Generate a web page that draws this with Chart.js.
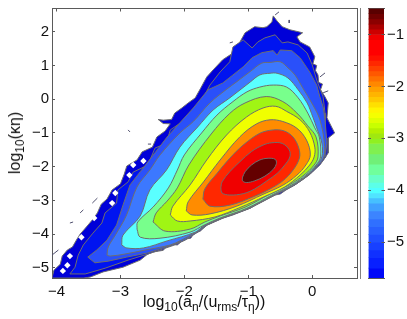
<!DOCTYPE html>
<html><head><meta charset="utf-8">
<script src="https://cdn.jsdelivr.net/npm/chart.js@4"></script>
<style>
html,body{margin:0;padding:0;background:#fff;width:407px;height:319px;overflow:hidden}
canvas{position:absolute;display:block}
.lab{position:absolute;font:16px "Liberation Sans",Arial,sans-serif;color:#111;white-space:nowrap;line-height:18px}
.lab sub{font-size:12px;line-height:0;vertical-align:-4px}
</style></head><body>
<canvas id="main" width="407" height="319" style="left:0;top:0"></canvas>
<canvas id="bar" width="47" height="319" style="left:360px;top:0"></canvas>
<div class="lab" id="xl" style="left:143px;top:293px">log<sub>10</sub>(a<sub>n</sub>/(u<sub>rms</sub>/τ<sub>η</sub>))</div>
<div class="lab" id="yl" style="left:15px;top:143px;transform:translate(-50%,-50%) rotate(-90deg)">log<sub>10</sub>(κη)</div>
<script>
const xTicks=[-4,-3,-2,-1,0];
const yTicks=[-5,-4,-3,-2,-1,0,1,2];
const barTicks=[-5,-4,-3,-2,-1];

const levelOuter=[[-4.07,-5.30],[-4.04,-5.07],[-3.94,-4.89],[-3.91,-4.65],[-3.83,-4.47],[-3.75,-4.38],[-3.69,-4.18],[-3.63,-4.00],[-3.52,-3.76],[-3.44,-3.58],[-3.36,-3.37],[-3.30,-3.11],[-3.21,-2.96],[-3.13,-2.69],[-3.00,-2.51],[-2.94,-2.22],[-2.90,-1.98],[-2.74,-1.80],[-2.66,-1.56],[-2.50,-1.42],[-2.43,-1.12],[-2.30,-0.94],[-2.22,-0.73],[-2.33,-0.72],[-2.41,-0.60],[-2.33,-0.62],[-2.20,-0.60],[-2.15,-0.41],[-2.04,-0.26],[-1.94,-0.11],[-1.83,0.04],[-1.75,0.31],[-1.65,0.66],[-1.55,0.87],[-1.40,1.17],[-1.24,1.37],[-1.13,1.70],[-1.05,1.97],[-0.90,2.15],[-0.77,2.12],[-0.71,2.15],[-0.63,2.29],[-0.61,2.47],[-0.55,2.32],[-0.47,2.15],[-0.35,2.06],[-0.15,1.97],[-0.24,1.85],[-0.19,1.70],[-0.04,1.55],[0.04,1.26],[0.01,1.05],[0.07,1.00],[0.05,0.85],[0.09,0.72],[0.10,0.50],[0.16,0.45],[0.13,0.28],[0.20,0.07],[0.25,-0.11],[0.23,-0.55],[0.35,-1.00],[0.25,-1.15],[0.25,-1.59],[0.20,-1.74],[0.12,-1.92],[0,-2.16],[-0.13,-2.36],[-0.27,-2.54],[-0.41,-2.69],[-0.50,-2.81],[-0.58,-2.84],[-0.82,-3.05],[-0.97,-3.23],[-1.24,-3.43],[-1.44,-3.55],[-1.65,-3.73],[-1.75,-3.91],[-1.85,-3.98],[-1.90,-4.12],[-2.00,-4.15],[-2.11,-4.32],[-2.25,-4.30],[-2.33,-4.48],[-2.49,-4.53],[-2.58,-4.60],[-2.69,-4.77],[-2.96,-4.98],[-3.27,-5.12],[-3.47,-5.27],[-3.57,-5.30]];
const levelDeep=[[-3.79,-5.18],[-3.71,-4.98],[-3.66,-4.62],[-3.58,-4.32],[-3.43,-3.97],[-3.29,-3.67],[-3.24,-3.37],[-3.06,-3.08],[-3.04,-2.69],[-2.88,-2.45],[-2.80,-2.16],[-2.57,-1.95],[-2.46,-1.45],[-2.28,-1.30],[-2.22,-0.91],[-1.99,-0.61],[-1.91,-0.38],[-1.75,-0.11],[-1.68,0.13],[-1.60,0.42],[-1.44,0.81],[-1.29,1.11],[-1.24,1.55],[-1.08,1.76],[-0.94,1.52],[-0.85,1.70],[-0.74,1.82],[-0.58,1.91],[-0.47,1.67],[-0.38,1.70],[-0.22,1.61],[-0.08,1.37],[0,1.02],[0.07,0.57],[0.17,0.07],[0.20,-0.41],[0.20,-0.91],[0.22,-1.36],[0.21,-1.71],[0.12,-1.95],[-0.05,-2.25],[-0.27,-2.54],[-0.58,-2.84],[-0.97,-3.23],[-1.39,-3.52],[-1.64,-3.73],[-1.79,-3.94],[-1.99,-4.18],[-2.18,-4.34],[-2.57,-4.59],[-2.88,-4.77],[-3.24,-5.01],[-3.55,-5.18]];
const levelRoyal=[[-3.51,-4.68],[-3.37,-4.47],[-3.21,-4.18],[-3.06,-3.73],[-2.96,-3.14],[-2.85,-2.54],[-2.69,-2.15],[-2.46,-1.59],[-2.27,-1.12],[-2.07,-0.70],[-1.86,-0.26],[-1.63,0.28],[-1.40,0.48],[-1.24,0.72],[-1.08,0.96],[-0.94,1.23],[-0.79,1.38],[-0.61,1.44],[-0.55,1.31],[-0.50,1.46],[-0.32,1.44],[-0.19,1.23],[-0.04,0.81],[0.07,0.42],[0.12,0.07],[0.17,-0.23],[0.20,-0.61],[0.23,-1.30],[0.19,-1.71],[0.10,-1.95],[-0.06,-2.25],[-0.28,-2.54],[-0.59,-2.84],[-0.98,-3.23],[-1.40,-3.52],[-1.65,-3.73],[-1.80,-3.94],[-2.00,-4.18],[-2.19,-4.32],[-2.58,-4.56],[-2.90,-4.68],[-3.19,-4.80],[-3.40,-4.85]];
const levelSky=[[-3.21,-4.62],[-3.19,-4.38],[-3.08,-4.03],[-2.91,-3.46],[-2.74,-2.60],[-2.54,-2.10],[-2.38,-1.65],[-2.07,-1.00],[-1.86,-0.66],[-1.60,-0.11],[-1.35,0.28],[-1.18,0.52],[-0.97,0.82],[-0.79,1.07],[-0.66,1.09],[-0.50,1.11],[-0.38,0.93],[-0.27,0.72],[-0.15,0.34],[0.01,-0.17],[0.12,-0.61],[0.19,-1.30],[0.18,-1.71],[0.09,-1.95],[-0.07,-2.25],[-0.29,-2.54],[-0.60,-2.84],[-0.99,-3.23],[-1.42,-3.52],[-1.67,-3.73],[-1.82,-3.94],[-2.05,-4.18],[-2.22,-4.32],[-2.61,-4.47],[-2.93,-4.59],[-3.16,-4.65]];
const levelCyan=[[-2.98,-4.32],[-2.96,-4.03],[-2.69,-3.46],[-2.54,-2.69],[-2.28,-2.10],[-2.07,-1.42],[-1.79,-0.82],[-1.55,-0.32],[-1.29,0.04],[-0.97,0.51],[-0.82,0.72],[-0.66,0.77],[-0.55,0.77],[-0.38,0.63],[-0.22,0.28],[-0.08,-0.11],[0.01,-0.53],[0.07,-0.85],[0.15,-1.30],[0.15,-1.71],[0.07,-1.95],[-0.08,-2.25],[-0.30,-2.54],[-0.61,-2.84],[-1.00,-3.23],[-1.43,-3.52],[-1.68,-3.73],[-1.83,-3.94],[-2.27,-4.20],[-2.64,-4.41],[-2.90,-4.41]];
const levelMint=[[-2.74,-3.85],[-2.73,-3.64],[-2.49,-3.20],[-2.25,-2.63],[-2.11,-2.10],[-2.00,-1.65],[-1.73,-1.00],[-1.49,-0.47],[-1.24,-0.07],[-1.02,0.22],[-0.82,0.36],[-0.61,0.42],[-0.40,0.36],[-0.22,0.04],[-0.07,-0.41],[0.04,-0.85],[0.11,-1.12],[0.13,-1.71],[0.06,-1.95],[-0.10,-2.25],[-0.32,-2.54],[-0.63,-2.84],[-1.02,-3.23],[-1.44,-3.52],[-1.69,-3.73],[-1.91,-3.94],[-2.38,-4.12],[-2.69,-4.09]];
const levelGreen=[[-2.49,-3.64],[-2.44,-3.37],[-2.27,-3.02],[-2.11,-2.63],[-1.93,-1.95],[-1.58,-1.03],[-1.29,-0.42],[-1.05,-0.11],[-0.72,0.08],[-0.46,-0.07],[-0.24,-0.41],[-0.07,-0.79],[0.06,-1.12],[0.09,-1.71],[0.03,-1.95],[-0.13,-2.25],[-0.35,-2.53],[-0.66,-2.81],[-1.05,-3.20],[-1.44,-3.46],[-1.68,-3.64],[-1.91,-3.85],[-2.30,-3.91]];
const levelYellow=[[-2.22,-3.43],[-2.18,-3.17],[-1.91,-2.54],[-1.65,-1.80],[-1.34,-1.06],[-1.03,-0.53],[-0.77,-0.26],[-0.57,-0.21],[-0.40,-0.36],[-0.19,-0.61],[-0.04,-0.97],[0.04,-1.42],[0.03,-1.71],[-0.04,-1.95],[-0.19,-2.25],[-0.43,-2.60],[-0.74,-2.88],[-1.13,-3.21],[-1.52,-3.49],[-1.91,-3.61],[-2.11,-3.61]];
const levelOrange=[[-1.97,-3.31],[-1.94,-3.04],[-1.70,-2.45],[-1.44,-1.80],[-1.13,-1.11],[-0.87,-0.73],[-0.66,-0.61],[-0.46,-0.66],[-0.24,-0.86],[-0.09,-1.21],[-0.03,-1.65],[-0.10,-1.95],[-0.24,-2.25],[-0.46,-2.55],[-0.77,-2.82],[-1.18,-3.17],[-1.60,-3.40],[-1.88,-3.43]];
const levelScarlet=[[-1.71,-2.96],[-1.68,-2.66],[-1.49,-2.20],[-1.29,-1.75],[-1.08,-1.36],[-0.82,-1.01],[-0.61,-0.91],[-0.44,-0.94],[-0.30,-1.12],[-0.21,-1.45],[-0.20,-1.74],[-0.30,-2.10],[-0.46,-2.42],[-0.66,-2.66],[-0.93,-2.90],[-1.29,-3.14],[-1.60,-3.17]];
const levelRed=[[-1.43,-2.63],[-1.41,-2.45],[-1.29,-2.15],[-1.13,-1.85],[-0.95,-1.55],[-0.77,-1.36],[-0.63,-1.29],[-0.47,-1.31],[-0.36,-1.50],[-0.35,-1.71],[-0.43,-1.95],[-0.55,-2.20],[-0.71,-2.42],[-0.90,-2.66],[-1.08,-2.80],[-1.29,-2.84],[-1.41,-2.78]];
const levelMaroon=[[-1.09,-2.31],[-1.05,-2.15],[-0.95,-1.95],[-0.82,-1.80],[-0.69,-1.75],[-0.58,-1.78],[-0.56,-1.90],[-0.61,-2.08],[-0.74,-2.28],[-0.90,-2.42],[-1.03,-2.47],[-1.09,-2.42]];

const holes=[[-2.86,-2.25],[-3.08,-2.78],[-3.13,-3.08],[-3.41,-3.52],[-3.61,-4.09],[-3.79,-4.65],[-3.83,-4.92],[-3.90,-5.09],[-2.80,-1.95],[-2.64,-1.83]];
const strays=[[-3.97,-4.47],[-4.07,-4.62],null,[-3.74,-3.64],[-3.79,-3.67],null,[-3.58,-3.28],[-3.63,-3.37],null,[-3.36,-2.93],[-3.44,-3.08],null,[-2.88,-0.91],[-2.85,-0.97],null,[-2.57,-1.33],[-2.52,-1.33],null,[-1.29,1.67],[-1.24,1.70],null,[-0.36,2.35],[-0.36,2.26],null,[-0.52,2.59],[-0.58,2.50],null,[0.12,0.66],[0.20,0.78],null,[0.17,0.19],[0.25,0.25]];

const levels=[levelOuter,levelDeep,levelRoyal,levelSky,levelCyan,levelMint,levelGreen,levelYellow,levelOrange,levelScarlet,levelRed,levelMaroon];
const levelColors=['#0000d8','#0014f0','#2a50fa','#3c78ff','#5affff','#78ff8c','#a0f514','#f0ff00','#ff8c00','#ff2800','#f00000','#640000'];

const barEdges=[-0.5,-0.6,-0.7,-0.8,-0.9,-1.0,-1.1,-1.4,-1.5,-1.6,-1.7,-1.8,-1.9,-2.0,-2.1,-2.2,-2.3,-2.4,-2.5,-2.6,-2.7,-2.8,-2.9,-3.0,-3.1,-3.3,-3.5,-3.7,-3.85,-3.95,-4.05,-4.15,-4.25,-4.4,-4.55,-4.7,-4.85,-5.0,-5.15,-5.3,-5.5,-5.69];
const barColors=['#5a0000','#700000','#8c0000','#aa0000','#cc0000','#f00000','#ff0000','#ff1000','#ff2800','#ff4000','#ff5800','#ff7000','#ff8800','#ffa000','#ffb400','#ffc800','#ffe000','#fff500','#f5ff00','#e0ff00','#c8ff00','#b4f000','#a0e810','#90f020','#80f050','#70f078','#70ff9c','#68ffc8','#5cffe8','#50ffff','#50e4ff','#46c0ff','#40a0ff','#3c84ff','#3070ff','#2860ff','#2050ff','#1840ff','#1030ff','#0820ff','#0008f8'];

const lineGray='#6e6e6e', axisGray='#5a5a5a';
const toPts=a=>a.map(p=>p?{x:p[0],y:p[1]}:{x:null,y:null});
const close=a=>a.concat([a[0]]);
const minus=v=>String(v).replace('-','\u2212');
const fixed=(size)=>function(s){
  if(s.isHorizontal()) s.height=size; else s.width=size;
  s.paddingTop=0;s.paddingBottom=0;s.paddingLeft=0;s.paddingRight=0;
};
const setTicks=(vals)=>function(s){ s.ticks=vals.map(v=>({value:v})); };
const font={family:'"Liberation Sans",Arial,sans-serif',size:15};
const tickGrid={drawOnChartArea:false,tickLength:-3,color:axisGray,tickColor:axisGray,lineWidth:1};

const datasets=levels.map((lv,i)=>({
  data:toPts(close(lv)),showLine:true,fill:'shape',tension:i>=3?0.35:0,
  backgroundColor:levelColors[i],borderColor:lineGray,borderWidth:1,
  pointRadius:0,order:100-i
}));
datasets.push({data:toPts(holes),showLine:false,pointStyle:'rectRot',pointRadius:3.2,
  pointBackgroundColor:'#fff',pointBorderColor:'#fff',pointBorderWidth:0,order:2});
datasets.push({data:toPts(strays),showLine:true,spanGaps:false,fill:false,tension:0,
  borderColor:'#50506e',borderWidth:1,pointRadius:0,order:1});

new Chart(document.getElementById('main'),{
  type:'scatter',data:{datasets},
  options:{responsive:false,animation:false,devicePixelRatio:1,
    layout:{padding:0},
    plugins:{legend:{display:false},tooltip:{enabled:false}},
    scales:{
      x:{type:'linear',position:'bottom',min:-4.07,max:0.70,afterFit:fixed(41),afterBuildTicks:setTicks(xTicks),
         grid:tickGrid,border:{color:axisGray,width:1},
         ticks:{font,color:'#111',padding:8,maxRotation:0,autoSkip:false,callback:minus}},
      y:{type:'linear',position:'left',min:-5.30,max:2.69,afterFit:fixed(52),afterBuildTicks:setTicks(yTicks),
         grid:tickGrid,border:{color:axisGray,width:1},
         ticks:{font,color:'#111',padding:6,autoSkip:false,callback:minus}},
      xTop:{type:'linear',position:'top',min:-4.07,max:0.70,afterFit:fixed(8.5),afterBuildTicks:setTicks(xTicks),
         grid:tickGrid,border:{color:axisGray,width:1},ticks:{display:false}},
      yRight:{type:'linear',position:'right',min:-5.30,max:2.69,afterFit:fixed(50),afterBuildTicks:setTicks(yTicks),
         grid:tickGrid,border:{color:axisGray,width:1},ticks:{display:false}}
    }
  }
});

const bandSets=barColors.map((c,i)=>({
  data:[[barEdges[i+1],barEdges[i]]],backgroundColor:c,borderWidth:0,
  barPercentage:1,categoryPercentage:1,grouped:false
}));
new Chart(document.getElementById('bar'),{
  type:'bar',data:{labels:['colorbar'],datasets:bandSets},
  options:{responsive:false,animation:false,devicePixelRatio:1,
    layout:{padding:0},
    plugins:{legend:{display:false},tooltip:{enabled:false}},
    scales:{
      x:{position:'bottom',afterFit:fixed(41),grid:{display:false},border:{color:axisGray,width:1},ticks:{display:false}},
      xTop:{position:'top',labels:['colorbar'],afterFit:fixed(8.5),grid:{display:false},border:{color:axisGray,width:1},ticks:{display:false}},
      y:{type:'linear',position:'right',min:-5.69,max:-0.5,afterFit:fixed(23),afterBuildTicks:setTicks(barTicks),
         grid:Object.assign({},tickGrid,{tickLength:-2.5,z:1}),border:{color:axisGray,width:1},
         ticks:{font,color:'#111',padding:5.5,autoSkip:false,callback:minus}},
      yLeft:{type:'linear',position:'left',min:-5.69,max:-0.5,afterFit:fixed(8.5),afterBuildTicks:setTicks(barTicks),
         grid:Object.assign({},tickGrid,{tickLength:-2.5,z:1}),border:{color:axisGray,width:1},ticks:{display:false}}
    }
  }
});
</script>
</body></html>
